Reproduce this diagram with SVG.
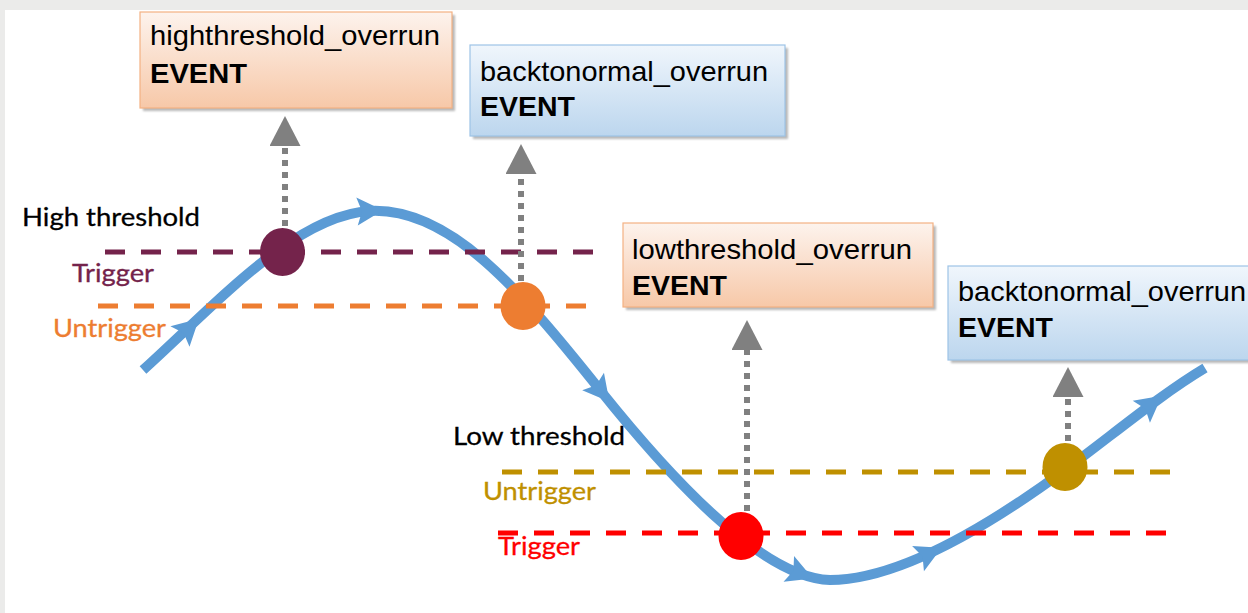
<svg xmlns="http://www.w3.org/2000/svg" width="1248" height="613" viewBox="0 0 1248 613">
  <defs>
    <linearGradient id="gOrange" x1="0" y1="0" x2="0" y2="1">
      <stop offset="0" stop-color="#fdf3ed"/>
      <stop offset="1" stop-color="#f7c8a8"/>
    </linearGradient>
    <linearGradient id="gBlue" x1="0" y1="0" x2="0" y2="1">
      <stop offset="0" stop-color="#f0f6fc"/>
      <stop offset="1" stop-color="#bcd6ee"/>
    </linearGradient>
    <filter id="shadow" x="-5%" y="-5%" width="115%" height="120%">
      <feGaussianBlur stdDeviation="1"/>
    </filter>
    <marker id="grayHead" markerUnits="userSpaceOnUse" markerWidth="32" markerHeight="32" refX="0" refY="15.5" orient="auto" viewBox="0 0 32 32">
      <path d="M0,0 L30,15.5 L0,31 Z" fill="#808080"/>
    </marker>
    <path id="blueHead" d="M15,0 L-11,-14 L-6,0 L-11,14 Z" fill="#5b9bd5"/>
  </defs>
  <style>
    .box-o { fill: url(#gOrange); stroke: #f4b183; stroke-width: 1.2; }
    .box-b { fill: url(#gBlue); stroke: #9dc3e6; stroke-width: 1.2; }
    .shadow { fill: #8a8a8a; opacity: 0.6; filter: url(#shadow); }
    .t1 { font-family: "Liberation Sans", Arial, sans-serif; font-size: 28px; fill: #000; }
    .t2 { font-family: "Liberation Sans", Arial, sans-serif; font-size: 28px; font-weight: bold; fill: #000; }
    .lbl { font-family: Lato, "Open Sans", sans-serif; font-size: 25px; stroke-width: 0.3; }
    .dash { fill: none; stroke-width: 5; stroke-dasharray: 20 16; }
    .dots { fill: none; stroke: #808080; stroke-width: 6; stroke-dasharray: 6 6; marker-end: url(#grayHead); }
    .curve { fill: none; stroke: #5b9bd5; stroke-width: 10; stroke-linecap: butt; }
  </style>

  <rect x="0" y="0" width="1248" height="613" fill="#ebebea"/>
  <rect x="5" y="10" width="1243" height="603" fill="#ffffff"/>

  <g id="curve">
    <path class="curve" d="M143,370 C215,305 295,215 370,211 C450,207 520,290 600,390 C664,470 760,578 830,580 C900,580 990,525 1065,470 C1115,433 1160,395 1205,368"/>
    <use href="#blueHead" transform="translate(188,329) rotate(-43)"/>
    <use href="#blueHead" transform="translate(368,211) rotate(-3)"/>
    <use href="#blueHead" transform="translate(600,390) rotate(51)"/>
    <use href="#blueHead" transform="translate(799,573) rotate(22)"/>
    <use href="#blueHead" transform="translate(928,554) rotate(-25)"/>
    <use href="#blueHead" transform="translate(1150,405) rotate(-38)"/>
  </g>

  <g id="threshold-lines">
    <line class="dash" x1="105" y1="252" x2="595" y2="252" stroke="#74234b"/>
    <line class="dash" x1="98" y1="306" x2="595" y2="306" stroke="#ed7d31"/>
    <line class="dash" x1="502" y1="472" x2="1172" y2="472" stroke="#bf9000"/>
    <line class="dash" x1="498" y1="533" x2="1168" y2="533" stroke="#ff0000"/>
  </g>

  <g id="labels">
    <text class="lbl" x="22" y="226" fill="#000" stroke="#000" textLength="178" lengthAdjust="spacingAndGlyphs">High threshold</text>
    <text class="lbl" x="72" y="282" fill="#74234b" stroke="#74234b" textLength="82" lengthAdjust="spacingAndGlyphs">Trigger</text>
    <text class="lbl" x="53" y="337" fill="#ed7d31" stroke="#ed7d31" textLength="113" lengthAdjust="spacingAndGlyphs">Untrigger</text>
    <text class="lbl" x="453" y="445" fill="#000" stroke="#000" textLength="172" lengthAdjust="spacingAndGlyphs">Low threshold</text>
    <text class="lbl" x="483" y="500" fill="#bf9000" stroke="#bf9000" textLength="113" lengthAdjust="spacingAndGlyphs">Untrigger</text>
    <text class="lbl" x="498" y="555" fill="#ff0000" stroke="#ff0000" textLength="82" lengthAdjust="spacingAndGlyphs">Trigger</text>
  </g>

  <g id="connectors">
    <line class="dots" x1="285" y1="226" x2="285" y2="146"/>
    <line class="dots" x1="521" y1="281" x2="521" y2="174"/>
    <line class="dots" x1="747" y1="511" x2="747" y2="350"/>
    <line class="dots" x1="1068" y1="441" x2="1068" y2="397"/>
  </g>

  <g id="point-high-trigger"><ellipse cx="282.5" cy="252" rx="22.5" ry="24" fill="#74234b"/></g>
  <g id="point-high-untrigger"><ellipse cx="523" cy="306" rx="22.5" ry="24" fill="#ed7d31"/></g>
  <g id="point-low-trigger"><ellipse cx="741" cy="536" rx="22.5" ry="24" fill="#ff0000"/></g>
  <g id="point-low-untrigger"><ellipse cx="1065" cy="467" rx="22.5" ry="24" fill="#bf9000"/></g>

  <g id="event-highthreshold">
    <rect class="shadow" x="143" y="15" width="312" height="96"/>
    <rect class="box-o" x="140" y="12" width="312" height="96"/>
    <text class="t1" x="150" y="45" textLength="290" lengthAdjust="spacingAndGlyphs">highthreshold_overrun</text>
    <text class="t2" x="150" y="83" textLength="97" lengthAdjust="spacingAndGlyphs">EVENT</text>
  </g>
  <g id="event-backtonormal-1">
    <rect class="shadow" x="473" y="48" width="315" height="91"/>
    <rect class="box-b" x="470" y="45" width="315" height="91"/>
    <text class="t1" x="480" y="81" textLength="288" lengthAdjust="spacingAndGlyphs">backtonormal_overrun</text>
    <text class="t2" x="480" y="116" textLength="95" lengthAdjust="spacingAndGlyphs">EVENT</text>
  </g>
  <g id="event-lowthreshold">
    <rect class="shadow" x="626" y="226" width="310" height="84"/>
    <rect class="box-o" x="623" y="223" width="310" height="84"/>
    <text class="t1" x="632" y="259" textLength="280" lengthAdjust="spacingAndGlyphs">lowthreshold_overrun</text>
    <text class="t2" x="632" y="295" textLength="95" lengthAdjust="spacingAndGlyphs">EVENT</text>
  </g>
  <g id="event-backtonormal-2">
    <rect class="shadow" x="951" y="269" width="312" height="94"/>
    <rect class="box-b" x="948" y="266" width="312" height="94"/>
    <text class="t1" x="958" y="301" textLength="288" lengthAdjust="spacingAndGlyphs">backtonormal_overrun</text>
    <text class="t2" x="958" y="337" textLength="95" lengthAdjust="spacingAndGlyphs">EVENT</text>
  </g>
</svg>
